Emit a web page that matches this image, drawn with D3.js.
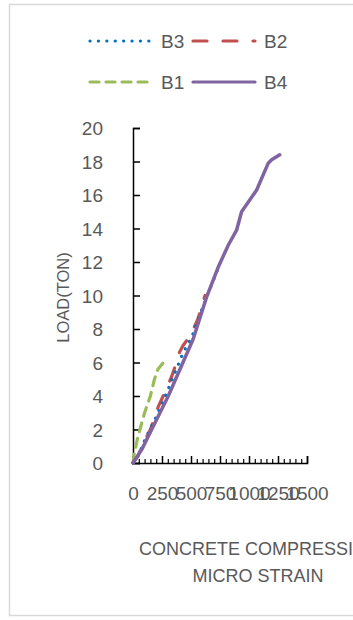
<!DOCTYPE html>
<html>
<head>
<meta charset="utf-8">
<script src="https://cdn.jsdelivr.net/npm/d3@7"></script>
<style>
  html, body { margin: 0; padding: 0; background: #ffffff; overflow: hidden; }
  svg { display: block; }
  text { font-family: "Liberation Sans", Arial, sans-serif; fill: #595959; }
</style>
</head>
<body>
<svg id="chart" width="353" height="620"></svg>
<script>
// Load versus concrete compressive micro strain for beams B1–B4
const seriesNames = ["B3", "B2", "B1", "B4"];
const seriesColors = ["#0070C0", "#C0504D", "#9BBB59", "#8064A2"];

const b1Strain = [0, 10, 40, 60, 100, 150, 185, 215, 262];
const b1Load   = [0, 0.5, 1.5, 2.0, 3.0, 4.0, 5.0, 5.6, 6.0];

const b2Strain = [0, 40, 100, 150, 220, 280, 335, 370, 400, 430, 462, 520, 560, 621];
const b2Load   = [0, 0.4, 1.3, 2.0, 3.4, 4.3, 5.2, 5.9, 6.6, 7.0, 7.3, 8.0, 8.6, 10.0];

const b3Strain = [0, 32, 103, 204, 290, 362, 433, 506, 578, 664, 750];
const b3Load   = [0, 0.2, 1.4, 2.8, 4.2, 5.4, 6.6, 7.5, 8.9, 10.4, 11.9];

const b4Strain = [0, 75, 190, 304, 405, 519, 634, 735, 821, 893, 936, 966, 1066, 1166, 1195, 1265];
const b4Load   = [0, 0.8, 2.4, 4.0, 5.6, 7.4, 9.9, 11.7, 13.0, 13.9, 15.0, 15.3, 16.3, 17.9, 18.1, 18.4];

const xTicks = [0, 250, 500, 750, 1000, 1250, 1500];
const yTicks = [0, 2, 4, 6, 8, 10, 12, 14, 16, 18, 20];

const yTitle = "LOAD(TON)";
const xTitleLines = ["CONCRETE COMPRESSIVE", "MICRO STRAIN"];

const svg = d3.select("#chart");

// chart frame (extends past the right edge)
svg.append("rect")
  .attr("x", 9.5).attr("y", 4.5)
  .attr("width", 400).attr("height", 611)
  .attr("fill", "none").attr("stroke", "#D9D9D9").attr("stroke-width", 1.5);

const x = d3.scaleLinear().domain([0, 1500]).range([133, 307]);
const y = d3.scaleLinear().domain([0, 20]).range([463, 128]);

// y axis: ticks point inward
const yAxis = svg.append("g")
  .attr("transform", `translate(${x(0)},0)`)
  .call(d3.axisLeft(y).tickValues(yTicks).tickSize(-7).tickPadding(30).tickFormat(d3.format("d")));
yAxis.select(".domain").attr("stroke", "#000").attr("stroke-width", 1.5);
yAxis.selectAll(".tick line").attr("stroke", "#000").attr("stroke-width", 1.5);
yAxis.selectAll(".tick text")
  .style("font-size", "19px").attr("fill", "#595959").attr("dy", "0.35em");

// x axis: minor ticks every 50, major every 250, all pointing up
const minor = d3.range(0, 1501, 50).filter(v => v % 250 !== 0);
const xMinor = svg.append("g")
  .attr("transform", `translate(0,${y(0)})`)
  .call(d3.axisBottom(x).tickValues(minor).tickSize(-4).tickFormat(""));
xMinor.select(".domain").remove();
xMinor.selectAll(".tick line").attr("stroke", "#000").attr("stroke-width", 1.2);

const xAxis = svg.append("g")
  .attr("transform", `translate(0,${y(0)})`)
  .call(d3.axisBottom(x).tickValues(xTicks).tickSize(-7).tickPadding(24).tickFormat(d3.format("d")));
xAxis.select(".domain").attr("stroke", "#000").attr("stroke-width", 1.5);
xAxis.selectAll(".tick line").attr("stroke", "#000").attr("stroke-width", 1.5);
xAxis.selectAll(".tick text")
  .style("font-size", "19px").attr("fill", "#595959");

// axis titles
svg.append("text")
  .attr("transform", `translate(69,${(y(0) + y(20)) / 2 + 2}) rotate(-90)`)
  .attr("text-anchor", "middle")
  .style("font-size", "16.5px")
  .text(yTitle);

svg.append("text")
  .attr("text-anchor", "middle")
  .style("font-size", "18px")
  .selectAll("tspan")
  .data(xTitleLines)
  .join("tspan")
  .attr("x", 258)
  .attr("y", (d, i) => 555 + i * 27)
  .text(d => d);

// series
const dashes = ["0.1 8.3", "14 16", "9 7", null];
const series = [
  { name: "B3", xs: b3Strain, ys: b3Load },
  { name: "B2", xs: b2Strain, ys: b2Load },
  { name: "B1", xs: b1Strain, ys: b1Load },
  { name: "B4", xs: b4Strain, ys: b4Load }
];
const line = d3.line().x(d => x(d[0])).y(d => y(d[1]));

// draw order: B1 and B2 under B3, B4 on top
const drawOrder = ["B1", "B2", "B3", "B4"];
drawOrder.forEach(nm => {
  const i = seriesNames.indexOf(nm);
  const s = series.find(t => t.name === nm);
  const pts = s.xs.map((v, k) => [v, s.ys[k]]);
  svg.append("path")
    .datum(pts)
    .attr("d", line)
    .attr("fill", "none")
    .attr("stroke", seriesColors[i])
    .attr("stroke-width", nm === "B4" ? 3.5 : 3.2)
    .attr("stroke-linecap", "round")
    .attr("stroke-linejoin", "round")
    .attr("stroke-dasharray", dashes[i]);
});

// legend: two rows of two entries
const legendPos = [
  { lx: 89, ly: 41 }, { lx: 192, ly: 41 },
  { lx: 89, ly: 82 }, { lx: 192, ly: 82 }
];
seriesNames.forEach((nm, i) => {
  const p = legendPos[i];
  const g = svg.append("g");
  g.append("line")
    .attr("x1", p.lx + 1).attr("x2", p.lx + 63)
    .attr("y1", p.ly).attr("y2", p.ly)
    .attr("stroke", seriesColors[i])
    .attr("stroke-width", 3.2)
    .attr("stroke-linecap", "round")
    .attr("stroke-dasharray", dashes[i]);
  g.append("text")
    .attr("x", p.lx + 72).attr("y", p.ly + 7)
    .style("font-size", "19px")
    .text(nm);
});
</script>
</body>
</html>
